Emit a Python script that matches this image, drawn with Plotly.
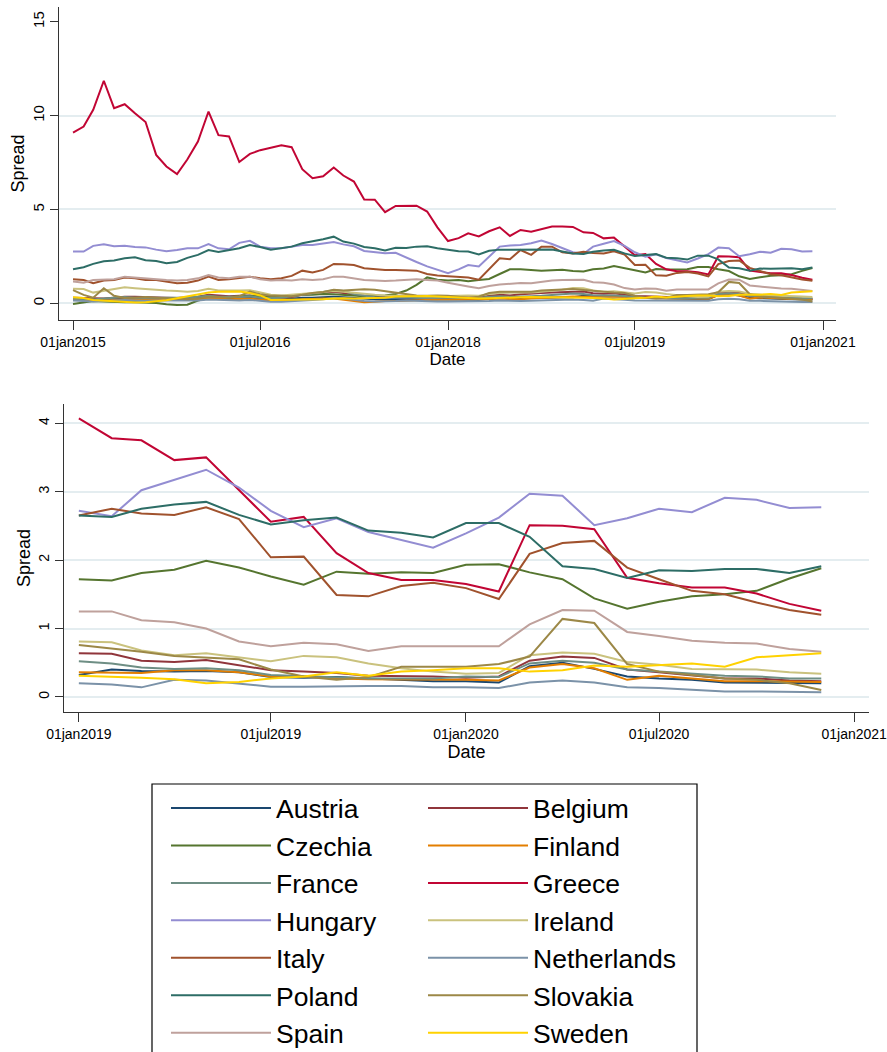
import pandas as pd
import plotly.graph_objects as go

# Monthly observations, January 2015 - December 2020
dates = pd.date_range("2015-01-01", "2020-12-01", freq="MS")

countries = ["Austria", "Belgium", "Czechia", "Finland", "France", "Greece", "Hungary",
             "Ireland", "Italy", "Netherlands", "Poland", "Slovakia", "Spain", "Sweden"]

austria = [0.20, 0.18, 0.15, 0.18, 0.22, 0.25, 0.22, 0.20, 0.22, 0.22, 0.20, 0.20,
           0.25, 0.30, 0.28, 0.25, 0.25, 0.28, 0.22, 0.18, 0.20, 0.25, 0.30, 0.30,
           0.32, 0.35, 0.32, 0.28, 0.25, 0.22, 0.22, 0.23, 0.25, 0.22, 0.20, 0.22,
           0.22, 0.20, 0.20, 0.18, 0.25, 0.28, 0.25, 0.25, 0.28, 0.30, 0.32, 0.32,
           0.32, 0.40, 0.38, 0.37, 0.38, 0.36, 0.29, 0.28, 0.29, 0.27, 0.25, 0.23,
           0.23, 0.21, 0.45, 0.50, 0.41, 0.30, 0.27, 0.25, 0.21, 0.21, 0.20, 0.20]
belgium = [0.30, 0.28, 0.25, 0.25, 0.30, 0.35, 0.35, 0.32, 0.30, 0.30, 0.28, 0.30,
           0.35, 0.45, 0.40, 0.38, 0.40, 0.42, 0.35, 0.30, 0.28, 0.33, 0.45, 0.50,
           0.55, 0.62, 0.55, 0.45, 0.40, 0.35, 0.33, 0.35, 0.38, 0.35, 0.32, 0.35,
           0.35, 0.32, 0.32, 0.30, 0.40, 0.45, 0.42, 0.48, 0.50, 0.55, 0.58, 0.60,
           0.64, 0.63, 0.53, 0.51, 0.54, 0.46, 0.39, 0.37, 0.35, 0.31, 0.31, 0.30,
           0.28, 0.30, 0.53, 0.59, 0.57, 0.40, 0.36, 0.32, 0.27, 0.27, 0.24, 0.23]
czechia = [-0.04, 0.05, 0.12, 0.10, 0.06, 0.05, 0.06, 0.04, 0.02, -0.05, -0.09, -0.08,
           0.15, 0.27, 0.30, 0.35, 0.38, 0.40, 0.38, 0.35, 0.36, 0.40, 0.45, 0.45,
           0.50, 0.48, 0.45, 0.42, 0.38, 0.40, 0.42, 0.50, 0.68, 0.98, 1.38, 1.26,
           1.22, 1.24, 1.18, 1.24, 1.30, 1.56, 1.81, 1.81, 1.78, 1.74, 1.76, 1.79,
           1.72, 1.70, 1.81, 1.86, 1.99, 1.89, 1.76, 1.64, 1.83, 1.80, 1.82, 1.81,
           1.93, 1.94, 1.82, 1.72, 1.44, 1.29, 1.39, 1.47, 1.50, 1.55, 1.73, 1.88]
finland = [0.22, 0.18, 0.15, 0.15, 0.20, 0.22, 0.20, 0.18, 0.20, 0.20, 0.18, 0.18,
           0.22, 0.25, 0.25, 0.22, 0.22, 0.25, 0.20, 0.15, 0.15, 0.18, 0.22, 0.25,
           0.25, 0.25, 0.20, 0.12, 0.06, 0.08, 0.12, 0.12, 0.14, 0.16, 0.18, 0.20,
           0.22, 0.20, 0.20, 0.18, 0.22, 0.25, 0.22, 0.22, 0.25, 0.28, 0.30, 0.33,
           0.36, 0.35, 0.35, 0.39, 0.39, 0.36, 0.30, 0.30, 0.27, 0.26, 0.26, 0.25,
           0.25, 0.24, 0.43, 0.48, 0.42, 0.25, 0.31, 0.27, 0.23, 0.23, 0.22, 0.22]
france = [0.25, 0.22, 0.20, 0.25, 0.30, 0.33, 0.30, 0.30, 0.32, 0.33, 0.30, 0.30,
          0.35, 0.40, 0.35, 0.33, 0.35, 0.38, 0.30, 0.28, 0.30, 0.38, 0.45, 0.50,
          0.60, 0.70, 0.65, 0.50, 0.40, 0.32, 0.30, 0.33, 0.35, 0.30, 0.28, 0.30,
          0.30, 0.30, 0.28, 0.28, 0.35, 0.38, 0.35, 0.35, 0.38, 0.40, 0.45, 0.48,
          0.52, 0.49, 0.43, 0.41, 0.42, 0.39, 0.32, 0.30, 0.29, 0.27, 0.27, 0.27,
          0.30, 0.29, 0.49, 0.53, 0.50, 0.40, 0.37, 0.34, 0.31, 0.30, 0.27, 0.27]
greece = [9.10, 9.42, 10.31, 11.86, 10.40, 10.61, 10.13, 9.66, 7.91, 7.29, 6.89, 7.66,
          8.62, 10.22, 8.96, 8.89, 7.53, 7.96, 8.16, 8.31, 8.42, 8.32, 7.15, 6.67,
          6.77, 7.24, 6.81, 6.49, 5.53, 5.52, 4.86, 5.19, 5.19, 5.20, 4.89, 4.05,
          3.32, 3.47, 3.73, 3.56, 3.84, 4.05, 3.59, 3.91, 3.82, 3.95, 4.09, 4.09,
          4.07, 3.78, 3.75, 3.46, 3.50, 3.03, 2.56, 2.63, 2.10, 1.81, 1.71, 1.71,
          1.65, 1.54, 2.51, 2.50, 2.45, 1.74, 1.66, 1.60, 1.60, 1.51, 1.36, 1.26]
hungary = [2.76, 2.76, 3.06, 3.15, 3.04, 3.07, 3.00, 2.98, 2.86, 2.77, 2.84, 2.93,
           2.93, 3.16, 2.93, 2.88, 3.22, 3.33, 3.02, 2.93, 2.93, 3.02, 3.11, 3.11,
           3.18, 3.26, 3.14, 3.04, 2.79, 2.74, 2.67, 2.69, 2.42, 2.20, 1.97, 1.80,
           1.60, 1.81, 2.04, 1.96, 2.49, 3.02, 3.08, 3.11, 3.20, 3.34, 3.16, 2.93,
           2.72, 2.64, 3.02, 3.17, 3.32, 3.06, 2.72, 2.48, 2.61, 2.41, 2.29, 2.18,
           2.39, 2.62, 2.97, 2.94, 2.51, 2.61, 2.75, 2.70, 2.91, 2.88, 2.76, 2.77]
ireland = [0.78, 0.76, 0.57, 0.66, 0.75, 0.85, 0.80, 0.75, 0.71, 0.68, 0.66, 0.62,
           0.66, 0.78, 0.68, 0.66, 0.68, 0.70, 0.57, 0.45, 0.42, 0.45, 0.52, 0.55,
           0.60, 0.66, 0.62, 0.55, 0.50, 0.45, 0.42, 0.40, 0.40, 0.38, 0.38, 0.38,
           0.40, 0.42, 0.42, 0.40, 0.50, 0.55, 0.55, 0.58, 0.58, 0.62, 0.66, 0.72,
           0.81, 0.80, 0.68, 0.61, 0.64, 0.58, 0.52, 0.60, 0.58, 0.49, 0.42, 0.37,
           0.34, 0.35, 0.61, 0.65, 0.63, 0.51, 0.47, 0.41, 0.40, 0.40, 0.36, 0.34]
italy = [1.28, 1.24, 1.07, 1.21, 1.24, 1.37, 1.33, 1.24, 1.24, 1.16, 1.07, 1.10,
         1.21, 1.42, 1.24, 1.28, 1.33, 1.42, 1.33, 1.28, 1.33, 1.46, 1.74, 1.64,
         1.78, 2.10, 2.08, 2.04, 1.87, 1.81, 1.78, 1.78, 1.74, 1.74, 1.56, 1.48,
         1.44, 1.42, 1.37, 1.26, 1.80, 2.40, 2.35, 2.84, 2.58, 3.02, 3.02, 2.72,
         2.65, 2.75, 2.68, 2.66, 2.77, 2.60, 2.04, 2.05, 1.49, 1.47, 1.62, 1.67,
         1.59, 1.43, 2.09, 2.25, 2.28, 1.89, 1.72, 1.55, 1.50, 1.38, 1.27, 1.20]
netherlands = [0.15, 0.12, 0.10, 0.12, 0.15, 0.18, 0.15, 0.13, 0.15, 0.15, 0.13, 0.13,
               0.15, 0.20, 0.18, 0.15, 0.15, 0.18, 0.12, 0.08, 0.08, 0.10, 0.15, 0.18,
               0.22, 0.28, 0.25, 0.18, 0.12, 0.10, 0.10, 0.12, 0.15, 0.13, 0.10, 0.10,
               0.10, 0.10, 0.10, 0.08, 0.12, 0.15, 0.13, 0.12, 0.13, 0.15, 0.18, 0.18,
               0.20, 0.18, 0.14, 0.25, 0.24, 0.19, 0.15, 0.15, 0.16, 0.16, 0.16, 0.14,
               0.14, 0.13, 0.21, 0.24, 0.21, 0.14, 0.13, 0.11, 0.08, 0.08, 0.07, 0.07]
poland = [1.81, 1.92, 2.10, 2.24, 2.28, 2.40, 2.45, 2.30, 2.25, 2.13, 2.20, 2.42,
          2.58, 2.84, 2.73, 2.82, 2.93, 3.10, 3.00, 2.85, 2.93, 3.02, 3.20, 3.29,
          3.41, 3.55, 3.29, 3.18, 3.00, 2.93, 2.82, 2.96, 2.95, 3.02, 3.04, 2.93,
          2.85, 2.78, 2.76, 2.60, 2.80, 2.86, 2.85, 2.85, 2.84, 2.85, 2.87, 2.76,
          2.65, 2.63, 2.75, 2.81, 2.85, 2.66, 2.52, 2.58, 2.62, 2.43, 2.40, 2.33,
          2.54, 2.54, 2.34, 1.91, 1.87, 1.74, 1.85, 1.84, 1.87, 1.87, 1.81, 1.91]
slovakia = [0.70, 0.45, 0.30, 0.80, 0.40, 0.28, 0.30, 0.33, 0.30, 0.27, 0.22, 0.22,
            0.25, 0.35, 0.33, 0.30, 0.38, 0.62, 0.48, 0.40, 0.40, 0.38, 0.45, 0.55,
            0.60, 0.72, 0.68, 0.70, 0.75, 0.72, 0.65, 0.55, 0.48, 0.42, 0.40, 0.42,
            0.40, 0.35, 0.30, 0.35, 0.55, 0.62, 0.62, 0.60, 0.62, 0.68, 0.72, 0.74,
            0.76, 0.71, 0.66, 0.60, 0.58, 0.55, 0.40, 0.30, 0.25, 0.29, 0.44, 0.44,
            0.44, 0.48, 0.59, 1.14, 1.08, 0.48, 0.37, 0.32, 0.27, 0.25, 0.20, 0.10]
spain = [1.16, 1.10, 1.24, 1.28, 1.28, 1.42, 1.37, 1.33, 1.28, 1.24, 1.21, 1.24,
         1.33, 1.51, 1.37, 1.33, 1.42, 1.42, 1.28, 1.21, 1.24, 1.21, 1.28, 1.24,
         1.28, 1.42, 1.42, 1.33, 1.24, 1.21, 1.19, 1.21, 1.24, 1.28, 1.24, 1.21,
         1.10, 0.98, 0.90, 0.80, 0.92, 1.00, 1.05, 1.08, 1.07, 1.15, 1.22, 1.24,
         1.25, 1.25, 1.12, 1.09, 1.00, 0.81, 0.74, 0.79, 0.77, 0.67, 0.74, 0.74,
         0.73, 0.74, 1.06, 1.27, 1.26, 0.95, 0.89, 0.82, 0.79, 0.78, 0.70, 0.66]
sweden = [0.32, 0.28, 0.18, 0.14, 0.10, 0.06, 0.04, 0.05, 0.09, 0.16, 0.27, 0.38,
          0.50, 0.58, 0.62, 0.64, 0.63, 0.55, 0.42, 0.18, 0.18, 0.20, 0.21, 0.21,
          0.21, 0.25, 0.27, 0.25, 0.27, 0.27, 0.30, 0.36, 0.38, 0.39, 0.39, 0.36,
          0.33, 0.30, 0.27, 0.25, 0.27, 0.30, 0.30, 0.32, 0.33, 0.33, 0.32, 0.31,
          0.31, 0.30, 0.28, 0.26, 0.20, 0.22, 0.27, 0.30, 0.36, 0.31, 0.37, 0.39,
          0.42, 0.42, 0.37, 0.39, 0.46, 0.44, 0.46, 0.49, 0.44, 0.58, 0.61, 0.64]

series = [austria, belgium, czechia, finland, france, greece, hungary,
          ireland, italy, netherlands, poland, slovakia, spain, sweden]

colors = ["#1a476f", "#90353b", "#55752f", "#e37e00", "#6e8e84", "#c10534", "#938dd2",
          "#cac27e", "#a0522d", "#7b92a8", "#2d6d66", "#9c8847", "#bfa19c", "#ffd200"]

top_ticks = ["2015-01-01", "2016-07-01", "2018-01-01", "2019-07-01", "2021-01-01"]
top_ticktext = ["01jan2015", "01jul2016", "01jan2018", "01jul2019", "01jan2021"]
bot_ticks = ["2019-01-01", "2019-07-01", "2020-01-01", "2020-07-01", "2021-01-01"]
bot_ticktext = ["01jan2019", "01jul2019", "01jan2020", "01jul2020", "01jan2021"]

W, H = 887, 1052
FONT = "Arial, Liberation Sans, sans-serif"
AXIS_COLOR = "#333333"
GRID_COLOR = "#e4edf0"


def fx(p):
    return p / W


def fy(p):
    return 1 - p / H


zoom_start = 48  # first month of 2019

fig = go.Figure()
for i, (name, vals, col) in enumerate(zip(countries, series, colors)):
    leg = "legend" if i % 2 == 0 else "legend2"
    fig.add_trace(go.Scatter(
        x=dates, y=vals, name=name, mode="lines",
        line=dict(color=col, width=2), legend=leg,
        xaxis="x", yaxis="y"))
    fig.add_trace(go.Scatter(
        x=dates[zoom_start:], y=vals[zoom_start:], name=name, mode="lines",
        line=dict(color=col, width=2), showlegend=False,
        xaxis="x2", yaxis="y2"))

common_x = dict(
    showline=True, linecolor=AXIS_COLOR, linewidth=1.3, ticks="outside",
    ticklen=9, tickwidth=1.3, tickcolor=AXIS_COLOR, showgrid=False, zeroline=False,
    ticklabeloverflow="allow",
    tickfont=dict(family=FONT, size=14, color="black"),
)
common_y = dict(
    showline=True, linecolor=AXIS_COLOR, linewidth=1.3, ticks="outside",
    ticklen=8, tickwidth=1.3, tickcolor=AXIS_COLOR, showgrid=False, zeroline=False,
    tickangle=-90, tickfont=dict(family=FONT, size=15, color="black"),
)

legend_style = dict(xanchor="left", yanchor="top", orientation="v",
                    bgcolor="rgba(0,0,0,0)", borderwidth=0, itemwidth=100,
                    tracegroupgap=0,
                    font=dict(family=FONT, size=26.5, color="black"))

fig.update_layout(
    width=W, height=H,
    margin=dict(l=0, r=0, t=0, b=0, autoexpand=False),
    paper_bgcolor="white", plot_bgcolor="white",
    font=dict(family=FONT, color="black"),
    xaxis=dict(common_x, domain=[fx(59), fx(836)], anchor="y",
               range=["2014-11-21", "2021-02-08"],
               tickvals=top_ticks, ticktext=top_ticktext,
               title=dict(text="Date", font=dict(size=17), standoff=0)),
    yaxis=dict(common_y, domain=[fy(320), fy(7)], anchor="x",
               range=[-0.89, 15.79], tickvals=[0, 5, 10, 15],
               minor=dict(tickvals=[0, 5, 10], showgrid=True, gridcolor=GRID_COLOR,
                          gridwidth=1.6, ticks=""),
               title=dict(text="Spread", font=dict(size=18), standoff=0)),
    xaxis2=dict(common_x, domain=[fx(64), fx(869)], anchor="y2",
                range=["2018-12-18", "2021-01-15"],
                tickvals=bot_ticks, ticktext=bot_ticktext,
                title=dict(text="Date", font=dict(size=18), standoff=0)),
    yaxis2=dict(common_y, domain=[fy(712), fy(404)], anchor="x2",
                range=[-0.22, 4.28], tickvals=[0, 1, 2, 3, 4],
                tickfont=dict(family=FONT, size=14, color="black"),
                showgrid=True, gridcolor=GRID_COLOR, gridwidth=1.6,
                title=dict(text="Spread", font=dict(size=18), standoff=0)),
    legend=dict(legend_style, x=fx(166), y=fy(784.3)),
    legend2=dict(legend_style, x=fx(423), y=fy(784.3)),
    shapes=[dict(type="rect", xref="paper", yref="paper",
                 x0=fx(152), x1=fx(697), y0=fy(1070), y1=fy(784),
                 line=dict(color="black", width=1.2), fillcolor="rgba(0,0,0,0)")],
)

fig.write_html("out.html")
